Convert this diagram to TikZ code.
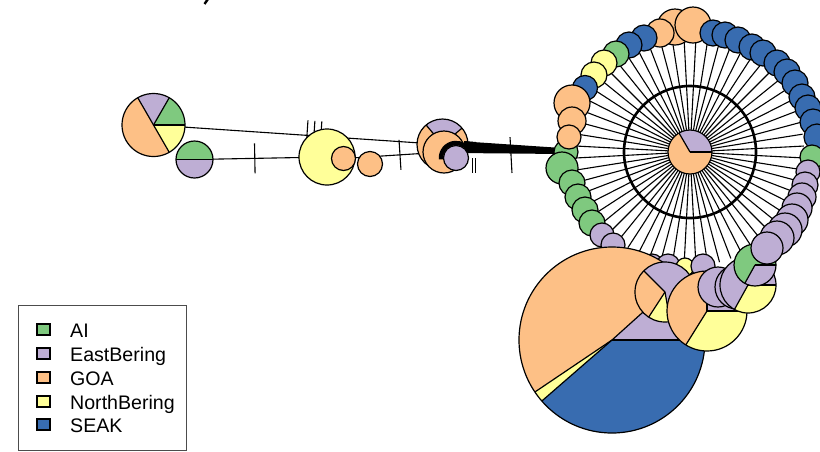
\documentclass[tikz,border=0pt]{standalone}
\usepackage{fontspec}
\setmainfont{Liberation Sans}
\usetikzlibrary{calc}
\definecolor{cAI}{HTML}{7FC97F}
\definecolor{cEB}{HTML}{BEAED4}
\definecolor{cGOA}{HTML}{FDC086}
\definecolor{cNB}{HTML}{FFFF99}
\definecolor{cSE}{HTML}{386CB0}
\tikzset{
  edge/.style={line width=1.1pt, black},
  rim/.style={line width=1.2pt, black},
  spoke/.style={line width=1.1pt, black},
  tick/.style={line width=1.1pt, black},
  legtext/.style={anchor=base west, inner sep=0pt, font=\fontsize{19.6}{23}\selectfont},
  legkey/.style={line width=1.1pt, black},
}
% pie chart: centre, radius, slices start/end/colour (angles counter-clockwise)
\newcommand{\piechart}[3]{%
  \foreach \pa/\pb/\pc in {#3}{\fill[\pc] (#1) -- ++(-\pa:#2) arc[start angle=-\pa, end angle=-\pb, radius=#2] -- cycle;}
  \foreach \pa/\pb/\pc in {#3}{\draw[rim] (#1) -- ++(-\pa:#2);}
  \draw[rim] (#1) circle[radius=#2];}
\newcommand{\hapdisc}[3]{\draw[rim, fill=#3] (#1) circle[radius=#2];}
\begin{document}
\begin{tikzpicture}[x=1pt,y=-1pt]
\useasboundingbox (0,0) rectangle (820,451);

% haplotype positions
\coordinate (A) at (153.5,125);
\coordinate (B) at (194.5,159.5);
\coordinate (C) at (327,157);
\coordinate (O1) at (343.5,158.5);
\coordinate (O2) at (370,164);
\coordinate (D1) at (442.5,144.5);
\coordinate (D2) at (444,152);
\coordinate (D3) at (456,158);
\coordinate (G) at (566,152);
\coordinate (R) at (690,152);

% tail of the heading
\draw[line width=2.4pt] (208,-1) -- (204.5,4);

% links
\draw[edge] (A) -- (D1);
\draw[edge] (B) -- (C);
\draw[edge] (O1) -- (D2);
\fill ($(D3)+(2,-17)$) -- ($(G)+(-4,-4)$) -- ($(G)+(-4,2)$) -- ($(D3)+(2,-5)$) -- cycle;

% mutation ticks
\foreach \p in {0.531,0.555,0.579}{
  \path (A) -- (D1) coordinate[pos=\p] (t);
  \draw[tick] ($(t)!15pt!90:(D1)$) -- ($(t)!15pt!-90:(D1)$);}
\path (B) -- (C) coordinate[pos=0.455] (t);
\draw[tick] ($(t)!15pt!90:(C)$) -- ($(t)!15pt!-90:(C)$);
\path (O1) -- (D2) coordinate[pos=0.562] (t);
\draw[tick] ($(t)!15pt!90:(D2)$) -- ($(t)!15pt!-90:(D2)$);
\path (D3) -- (G) coordinate[pos=0.5] (t);
\draw[tick] ($(t)!18pt!90:(G)$) -- ($(t)!18pt!-90:(G)$);
\draw[line width=0.9pt] (472,158) -- (472,173);
\draw[line width=0.9pt] (475.5,158) -- (475.5,173);

% star of links around the central haplotype
\foreach \k in {0,...,59} \draw[spoke] (R) -- ++({\k*6+3}:114);
\draw[line width=2.6pt] (R) circle[radius=66];

% ring: bottom
\foreach \x/\y/\rr/\cc in {652/266/12/cEB, 668/266/12/cEB, 685/267/9/cNB, 703/266/12/cEB}
  \draw[rim, fill=\cc] (\x,\y) circle[radius=\rr];
% ring: left side, from the top downwards
\foreach \x/\y/\rr/\cc in {675/27/18/cGOA, 660/33/14/cGOA, 644/38/13/cSE, 629/45/13/cSE,
  616/54/13/cAI, 604/63/13/cNB, 594/75/13/cNB, 585/88/12.5/cSE, 566/152/12/cAI,
  572/103/18/cGOA, 572/121/14/cGOA, 569/137/12/cGOA, 562/168/16/cAI,
  572/183/13/cAI, 578/197/13/cAI, 585/210/13/cAI, 592/223/13/cAI,
  602/235/12/cEB, 613/245/12/cEB}
  \draw[rim, fill=\cc] (\x,\y) circle[radius=\rr];
% ring: right side, from the top downwards
\foreach \x/\y/\rr/\cc in {693/25/18/cGOA, 713/33/13/cSE, 725/35/13/cSE, 738/40/13/cSE,
  752/47/13/cSE, 763/53/13/cSE, 777/63/13/cSE, 787/72/13/cSE, 795/83/13/cSE,
  802/97/13/cSE, 808/108/13/cSE, 813/122/13/cSE, 817/137/13/cSE, 812/157/12/cAI}
  \draw[rim, fill=\cc] (\x,\y) circle[radius=\rr];

% large haplotypes at the bottom
\coordinate (P1) at (612,340);
\coordinate (P3) at (665,292);
\coordinate (P4) at (707,311);
\coordinate (L1) at (718,287);
\coordinate (L2) at (737,287);
\coordinate (P5) at (748,285);
\coordinate (P6) at (755,265);
\piechart{P1}{93}{0/42/cEB, 42/214/cGOA, 214/221/cNB, 221/360/cSE}
\piechart{P3}{30}{135/237/cGOA, 237/280/cNB, 280/495/cEB}
\piechart{P4}{40}{0/90/cEB, 90/238/cGOA, 238/360/cNB}
\hapdisc{L1}{20}{cEB}
\hapdisc{L2}{22}{cEB}
\piechart{P5}{28}{0/241/cEB, 241/360/cNB}
\piechart{P6}{21}{0/241/cAI, 241/360/cEB}
\foreach \x/\y/\rr in {808/172/12, 805/185/13, 802/197/14, 797/208/15, 792/220/16,
  785/230/17, 777/238/17, 767/248/16}
  \draw[rim, fill=cEB] (\x,\y) circle[radius=\rr];

% haplotypes on the left
\piechart{A}{31.5}{0/60/cAI, 60/120/cEB, 120/300/cGOA, 300/360/cNB}
\piechart{B}{18.5}{0/180/cAI, 180/360/cEB}
\hapdisc{C}{28}{cNB}
\hapdisc{O1}{12}{cGOA}
\hapdisc{O2}{12.5}{cGOA}
\piechart{D1}{25.5}{40/130/cEB, 130/400/cGOA}
\hapdisc{D2}{21}{cGOA}
% links converging on the small haplotype
\draw[line width=4.5pt] (D3) ++(-185:15) arc[start angle=-185, end angle=-55, radius=15];
\fill ($(D3)+(8,-17)$) -- ($(D3)+(20,-16)$) -- ($(D3)+(20,-6)$) -- ($(D3)+(8,-5)$) -- cycle;
\hapdisc{D3}{12.5}{cEB}

% central haplotype
\piechart{R}{22}{0/120/cEB, 120/360/cGOA}

% legend
\draw[line width=1pt, black!70] (18,305) rectangle (186,450);
\foreach \yy/\cc/\tt in {337/cAI/AI, 361/cEB/EastBering, 385/cGOA/GOA, 409/cNB/NorthBering, 432/cSE/SEAK}{
  \draw[legkey, fill=\cc] (37,\yy-13) rectangle (50,\yy-2);
  \node[legtext] (lg\tt) at (70,\yy) {\tt};}
\end{tikzpicture}
\end{document}
